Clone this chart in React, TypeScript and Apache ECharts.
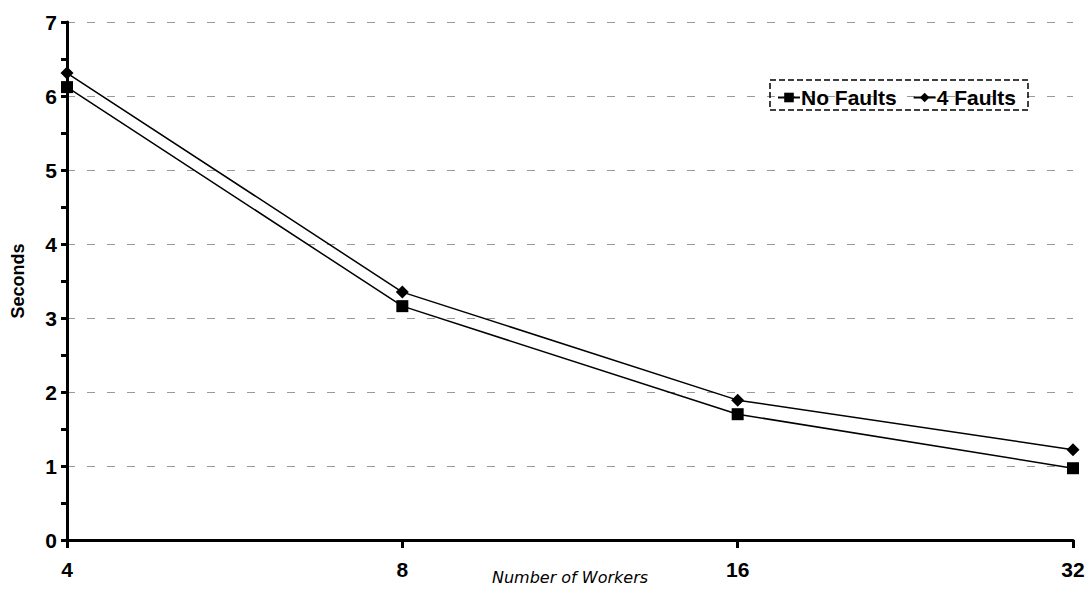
import React, { useEffect, useRef } from "react";
import * as echarts from "echarts";

const workers = ["4", "8", "16", "32"];
const noFaults = [6.12, 3.16, 1.7, 0.97];
const fourFaults = [6.31, 3.35, 1.89, 1.22];
const yTicks = [0, 1, 2, 3, 4, 5, 6, 7];

export default function App() {
  const ref = useRef<HTMLDivElement>(null);
  useEffect(() => {
    if (!ref.current) return;
    const chart = echarts.init(ref.current, null, { renderer: "svg" });
    chart.setOption({
      animation: false,
      backgroundColor: "#ffffff",
      grid: { left: 67, right: 16, top: 22, bottom: 49, containLabel: false, outerBoundsMode: "none" },
      legend: {
        left: 772,
        top: 82,
        itemGap: 16,
        itemWidth: 22,
        itemHeight: 12,
        textStyle: { fontFamily: "Liberation Sans", fontWeight: "bold", fontSize: 21, color: "#000", padding: [0, 0, 0, -4] },
        data: ["No Faults", "4 Faults"],
      },
      graphic: [
        {
          type: "rect",
          shape: { x: 770, y: 80, width: 258, height: 30 },
          style: { fill: "none", stroke: "#000", lineWidth: 1.5, lineDash: [6, 3] },
          z: 100,
        },
      ],
      xAxis: {
        type: "category",
        data: workers,
        boundaryGap: false,
        name: "Number of Workers",
        nameLocation: "middle",
        nameGap: 29,
        nameMoveOverlap: false,
        nameTextStyle: { fontFamily: "DejaVu Sans", fontStyle: "italic", fontSize: 16, color: "#000" },
        axisLine: { lineStyle: { color: "#000", width: 3 } },
        axisTick: { show: true, alignWithLabel: true, length: 8, lineStyle: { color: "#000", width: 3 } },
        axisLabel: { fontFamily: "Liberation Sans", fontWeight: "bold", fontSize: 21, color: "#000", margin: 19 },
        splitLine: { show: false },
      },
      yAxis: {
        type: "value",
        min: 0,
        max: 7,
        interval: 1,
        name: "Seconds",
        nameLocation: "middle",
        nameGap: 40,
        nameMoveOverlap: false,
        nameTextStyle: { fontFamily: "Liberation Sans", fontWeight: "bold", fontSize: 18, color: "#000" },
        axisLine: { show: true, lineStyle: { color: "#000", width: 3 } },
        axisTick: { show: true, length: 6, lineStyle: { color: "#000", width: 3 } },
        minorTick: { show: true, splitNumber: 2, length: 6, lineStyle: { color: "#000", width: 3 } },
        axisLabel: {
          fontFamily: "Liberation Sans",
          fontWeight: "bold",
          fontSize: 21,
          color: "#000",
          margin: 10,
          formatter: (v: number) => (yTicks.includes(v) ? String(v) : ""),
        },
        splitLine: { show: true, lineStyle: { color: "#999", width: 1, type: [8, 12] } },
      },
      series: [
        {
          name: "No Faults",
          type: "line",
          data: noFaults,
          symbol: "rect",
          symbolSize: 12,
          itemStyle: { color: "#000" },
          lineStyle: { color: "#000", width: 1.5 },
          z: 5,
        },
        {
          name: "4 Faults",
          type: "line",
          data: fourFaults,
          symbol: "diamond",
          symbolSize: 13,
          itemStyle: { color: "#000" },
          lineStyle: { color: "#000", width: 1.5 },
          z: 5,
        },
      ],
    });
    return () => chart.dispose();
  }, []);
  return <div ref={ref} style={{ width: 1089, height: 589, position: "absolute", left: 0, top: 0 }} />;
}
